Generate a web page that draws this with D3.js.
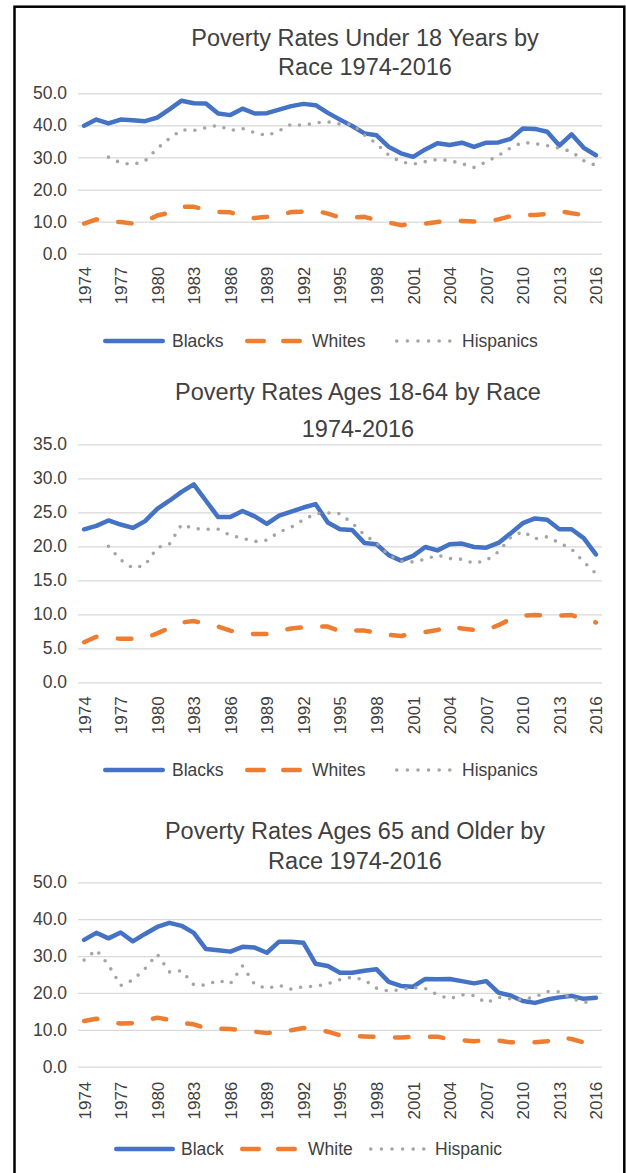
<!DOCTYPE html>
<html>
<head>
<meta charset="utf-8">
<script src="https://cdn.jsdelivr.net/npm/d3@7"></script>
<style>
html,body{margin:0;padding:0;background:#fff;}
svg{display:block;font-family:"Liberation Sans",Arial,sans-serif;}
</style>
</head>
<body>
<svg id="chart" width="626" height="1173"></svg>
<script>
// ---------- DATA ----------
const years = [1974,1975,1976,1977,1978,1979,1980,1981,1982,1983,1984,1985,1986,1987,1988,1989,1990,1991,1992,1993,1994,1995,1996,1997,1998,1999,2000,2001,2002,2003,2004,2005,2006,2007,2008,2009,2010,2011,2012,2013,2014,2015,2016];
const tickYears = [1974,1977,1980,1983,1986,1989,1992,1995,1998,2001,2004,2007,2010,2013,2016];

const under18Blacks = [39.9,41.8,40.6,41.8,41.6,41.3,42.4,45.0,47.7,46.9,46.8,43.7,43.2,45.2,43.7,43.8,44.9,46.0,46.7,46.3,43.9,41.8,39.8,37.5,36.9,33.3,31.3,30.2,32.5,34.4,33.9,34.6,33.3,34.6,34.7,35.8,39.0,38.9,38.0,33.7,37.2,33.0,30.7];
const under18Whites = [9.4,10.7,10.0,9.9,9.4,10.1,11.9,12.8,14.6,14.6,13.8,13.0,12.9,11.7,11.1,11.5,12.0,13.0,13.1,13.4,12.5,11.3,11.3,11.5,10.5,9.7,8.9,9.3,9.4,9.9,10.4,10.2,10.0,10.0,10.7,11.7,12.0,12.1,12.4,13.3,12.6,12.1,10.9];
const under18Hispanics = [null,null,30.1,28.3,27.8,28.9,32.8,35.9,38.6,38.4,39.3,40.0,38.4,39.0,37.7,36.8,38.3,40.4,40.0,40.8,41.1,40.4,40.4,37.0,34.3,30.7,28.6,27.9,28.7,29.4,29.0,28.1,26.9,28.6,30.6,33.0,34.7,34.3,33.7,32.9,31.8,29.0,27.5];

const ages1864Blacks = [22.5,23.0,23.8,23.2,22.7,23.7,25.5,26.7,28.0,29.1,26.7,24.3,24.3,25.2,24.4,23.3,24.5,25.1,25.7,26.2,23.5,22.5,22.4,20.5,20.3,18.7,17.9,18.6,19.9,19.4,20.3,20.4,19.9,19.8,20.5,21.9,23.4,24.1,23.9,22.5,22.5,21.2,18.8];
const ages1864Whites = [5.9,6.7,6.5,6.4,6.4,6.5,7.2,8.0,8.8,9.0,8.6,8.2,7.6,7.2,7.1,7.1,7.6,7.9,8.1,8.2,8.2,7.5,7.6,7.6,7.3,7.0,6.8,7.2,7.4,7.7,8.3,7.9,7.7,7.7,8.4,9.3,9.8,9.9,9.8,9.8,9.9,9.2,8.8];
const ages1864Hispanics = [null,null,20.0,18.0,16.8,17.2,19.8,20.3,23.2,22.6,22.5,22.5,21.6,21.2,20.7,20.9,22.1,22.8,23.9,24.8,24.9,24.8,23.4,21.7,20.5,18.7,17.8,17.7,18.1,18.7,18.2,18.1,17.5,17.9,19.2,21.3,22.2,21.1,21.4,20.5,19.6,17.7,16.0];

const ages65Blacks = [34.4,36.3,34.8,36.4,34.0,36.0,37.9,39.0,38.2,36.3,31.9,31.6,31.2,32.5,32.3,30.9,33.9,33.9,33.6,27.9,27.3,25.5,25.5,26.0,26.4,23.0,21.9,21.7,23.8,23.7,23.8,23.2,22.6,23.2,20.1,19.3,17.8,17.3,18.2,18.8,19.2,18.4,18.7];
const ages65Whites = [12.4,13.0,12.2,11.7,11.8,12.5,13.3,12.7,11.9,11.5,10.4,10.3,10.2,9.9,9.5,9.1,9.5,9.9,10.5,10.1,9.5,8.5,8.3,8.2,8.1,8.0,7.9,8.1,8.1,8.1,7.5,7.2,6.9,7.2,7.1,6.6,6.6,6.6,6.9,8.0,7.5,6.6,7.1];
const ages65Hispanics = [28.9,31.7,27.6,22.0,23.5,26.6,30.5,25.7,26.0,22.2,22.1,23.4,22.5,27.3,22.3,21.2,22.1,21.0,21.7,21.8,22.5,23.6,24.3,23.5,21.3,20.5,20.9,21.5,21.2,19.5,18.4,19.5,19.3,17.3,18.8,18.4,18.2,18.9,20.4,20.3,18.5,17.5,17.5];

const titles1 = ["Poverty Rates Under 18 Years by", "Race 1974-2016"];
const titles2 = ["Poverty Rates Ages 18-64 by Race", "1974-2016"];
const titles3 = ["Poverty Rates Ages 65 and Older by", "Race 1974-2016"];
const legend12 = ["Blacks", "Whites", "Hispanics"];
const legend3 = ["Black", "White", "Hispanic"];

// ---------- STYLES ----------
const seriesStyles = [
  {color:"#4472C4", width:4.5, dash:null, cap:"round", legendDash:null},
  {color:"#ED7D31", width:4.5, dash:"13.5,21.5", cap:"round", legendDash:"16.5,19.5"},
  {color:"#A5A5A5", width:3.6, dash:"0,10", cap:"round", legendDash:"0,10.6"}
];
const textColor = "#404040";
const gridColor = "#D9D9D9";

const panels = [
  {titles:titles1, titleX:365, titleY:[45.5,74.5], ymax:50, step:10, top:93.3, bottom:253.7,
   series:[under18Blacks, under18Whites, under18Hispanics], legend:legend12,
   legendY:341, legendX:[103,245,395], legendLen:[62,57,58], legendText:[172,312,462], xLabOff:13},
  {titles:titles2, titleX:358, titleY:[399.5,436.5], ymax:35, step:5, top:444.3, bottom:682.3,
   series:[ages1864Blacks, ages1864Whites, ages1864Hispanics], legend:legend12,
   legendY:770, legendX:[103,245,395], legendLen:[62,57,58], legendText:[172,312,462], xLabOff:14},
  {titles:titles3, titleX:355, titleY:[838.5,868.5], ymax:50, step:10, top:882.3, bottom:1066.7,
   series:[ages65Blacks, ages65Whites, ages65Hispanics], legend:legend3,
   legendY:1149, legendX:[114,240,369], legendLen:[61,57,57], legendText:[181,308,435], xLabOff:15}
];

const svg = d3.select("#chart");

// outer border
svg.append("rect").attr("x",14.5).attr("y",6.7).attr("width",609.8).attr("height",1180)
  .attr("fill","none").attr("stroke","#000").attr("stroke-width",2.5);

const x = d3.scalePoint().domain(years).range([78,602]).padding(0.5);

panels.forEach(p => {
  const g = svg.append("g");
  const y = d3.scaleLinear().domain([0,p.ymax]).range([p.bottom,p.top]);

  // title
  p.titles.forEach((t,i) => {
    g.append("text").attr("x",p.titleX).attr("y",p.titleY[i])
      .attr("text-anchor","middle").attr("font-size",23.5).attr("fill",textColor).text(t);
  });

  // gridlines + y labels via axis
  const yTicks = d3.range(0, p.ymax + 0.001, p.step);
  const yAxis = d3.axisLeft(y).tickValues(yTicks).tickFormat(d3.format(".1f"))
    .tickSize(-(602-78)).tickPadding(11);
  const ya = g.append("g").attr("transform","translate(602,0)");
  ya.call(d3.axisRight(y).tickValues(yTicks).tickSize(-(602-78)).tickFormat(""));
  ya.select(".domain").remove();
  ya.selectAll(".tick line").attr("stroke",gridColor).attr("stroke-width",1.3);

  const yl = g.append("g").attr("transform","translate(78,0)");
  yl.call(d3.axisLeft(y).tickValues(yTicks).tickFormat(d3.format(".1f")).tickSize(0).tickPadding(11));
  yl.select(".domain").remove();
  yl.selectAll("text").attr("font-size",17.5).attr("fill",textColor)
    .attr("font-family","Liberation Sans, Arial, sans-serif");

  // x axis labels
  const xa = g.append("g").attr("transform",`translate(0,${p.bottom})`);
  xa.call(d3.axisBottom(x).tickValues(tickYears).tickSize(0).tickPadding(0));
  xa.select(".domain").remove();
  xa.selectAll("text")
    .attr("font-size",17).attr("fill",textColor)
    .attr("font-family","Liberation Sans, Arial, sans-serif")
    .attr("text-anchor","end")
    .attr("transform",`translate(0,${p.xLabOff}) rotate(-90)`)
    .attr("x",0).attr("y",0).attr("dy","0.35em");

  // lines
  p.series.forEach((vals,si) => {
    const st = seriesStyles[si];
    const data = years.map((yr,i) => ({yr, v: vals[i]}));
    const line = d3.line().defined(d => d.v != null).x(d => x(d.yr)).y(d => y(d.v));
    const path = g.append("path").datum(data).attr("d",line)
      .attr("fill","none").attr("stroke",st.color).attr("stroke-width",st.width)
      .attr("stroke-linecap",st.cap).attr("stroke-linejoin","round");
    if (st.dash) path.attr("stroke-dasharray",st.dash);
  });

  // legend
  p.legend.forEach((lab,i) => {
    const st = seriesStyles[i];
    const x0 = p.legendX[i], len = p.legendLen[i];
    const half = st.width/2;
    const ln = g.append("line").attr("x1",x0+half).attr("x2",x0+len-half)
      .attr("y1",p.legendY).attr("y2",p.legendY)
      .attr("stroke",st.color).attr("stroke-width",st.width).attr("stroke-linecap",st.cap);
    if (st.legendDash) ln.attr("stroke-dasharray",st.legendDash);
    g.append("text").attr("x",p.legendText[i]).attr("y",p.legendY).attr("dy","0.35em")
      .attr("font-size",17.5).attr("fill",textColor).text(lab);
  });
});
</script>
</body>
</html>
